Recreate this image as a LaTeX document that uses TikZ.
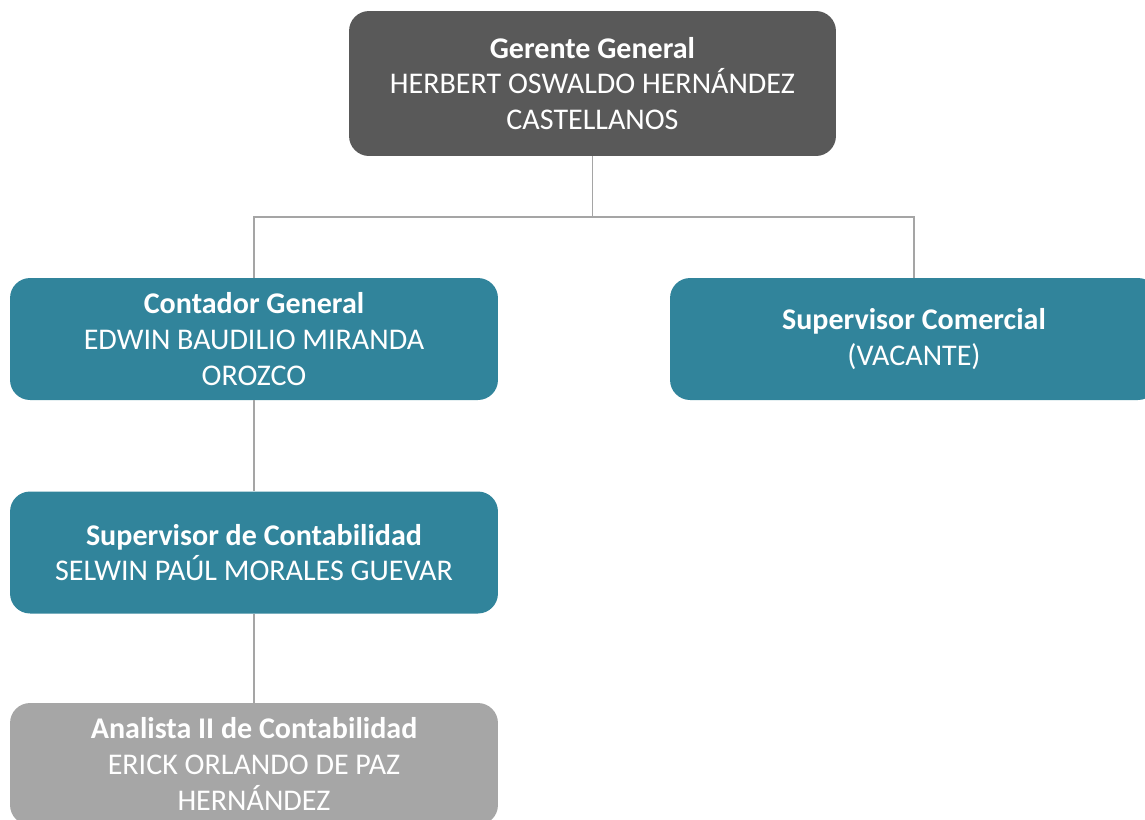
\documentclass[tikz,border=0pt]{standalone}
\usepackage{fontspec}
\setmainfont{Carlito}
\definecolor{gerfill}{HTML}{595959}
\definecolor{tealfill}{HTML}{31849B}
\definecolor{grayfill}{HTML}{A6A6A6}
\definecolor{linkcol}{HTML}{A5A5A5}
\begin{document}
\begin{tikzpicture}[x=0.02cm,y=-0.02cm,
    box/.style={rounded corners=0.4cm, minimum width=9.76cm, minimum height=2.44cm,
      align=center, text=white, inner sep=2pt, font=\fontsize{17.1}{20.4}\selectfont},
    link/.style={draw=linkcol, line width=0.6pt}]
  \useasboundingbox (0,0) rectangle (1145,819);
  \clip (0,0) rectangle (1145,819);
  \node[box, fill=gerfill, minimum height=2.9cm, minimum width=9.74cm] (ger) at (592.5,83.5)
    {\textbf{Gerente General}\\HERBERT OSWALDO HERNÁNDEZ\\CASTELLANOS};
  \node[box, fill=tealfill] (cont) at (254,339)
    {\textbf{Contador General}\\EDWIN BAUDILIO MIRANDA\\OROZCO};
  \node[box, fill=tealfill] (com) at (914,339)
    {\textbf{Supervisor Comercial}\\(VACANTE)};
  \node[box, fill=tealfill] (sup) at (254,552.5)
    {\textbf{Supervisor de Contabilidad}\\SELWIN PAÚL MORALES GUEVAR};
  \node[box, fill=grayfill] (ana) at (254,764)
    {\textbf{Analista II de Contabilidad}\\ERICK ORLANDO DE PAZ\\HERNÁNDEZ};
  \coordinate (bus) at (592.5,217);
  \draw[link] (ger.south) -- (bus);
  \draw[link] (cont.north) |- (bus) -| (com.north);
  \draw[link] (cont.south) -- (sup.north);
  \draw[link] (sup.south) -- (ana.north);
\end{tikzpicture}
\end{document}
